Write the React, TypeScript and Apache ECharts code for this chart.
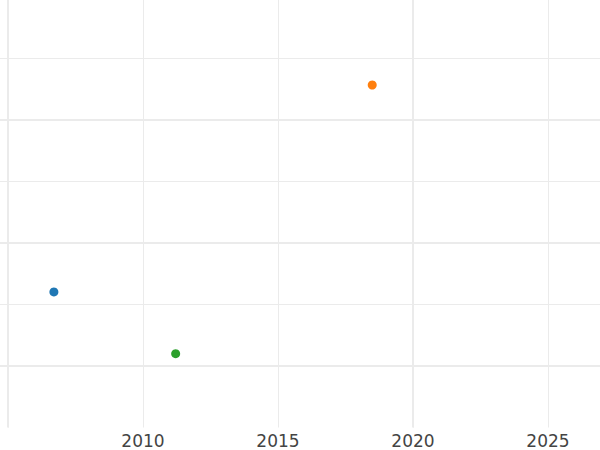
import React, { useEffect, useRef } from "react";
import * as echarts from "echarts";

const seriesNames = ["A", "B", "C"];
const seriesColors = ["#1f77b4", "#ff7f0e", "#2ca02c"];
const xValues = [2006.7, 2018.49, 2011.21];
const yValues = [1.602, 3.285, 1.1];
const majorX = [2005, 2020];
const majorY = [1, 2, 3];
const hiddenXLabels = [2005];

export default function App() {
  const ref = useRef<HTMLDivElement>(null);
  useEffect(() => {
    if (!ref.current) return;
    const chart = echarts.init(ref.current, undefined, { renderer: "svg" });
    const gridColor = "#ebebeb";
    const series: any[] = seriesNames.map((name, i) => ({
      name,
      type: "scatter",
      symbolSize: 9,
      itemStyle: { color: seriesColors[i], opacity: 1 },
      data: [[xValues[i], yValues[i]]],
      z: 5,
    }));
    series.push({
      type: "scatter",
      data: [],
      silent: true,
      markLine: {
        silent: true,
        symbol: ["none", "none"],
        label: { show: false },
        lineStyle: { color: gridColor, width: 2, type: "solid" },
        data: [
          ...majorX.map((v) => ({ xAxis: v })),
          ...majorY.map((v) => ({ yAxis: v })),
        ],
      },
      z: 1,
    });
    chart.setOption({
      animation: false,
      backgroundColor: "#ffffff",
      grid: {
        left: 0,
        right: 0,
        top: 0,
        bottom: 22.5,
        containLabel: false,
        outerBoundsMode: "none",
      },
      xAxis: {
        type: "value",
        min: 2004.704,
        max: 2026.926,
        splitNumber: 5,
        axisLine: { show: false },
        axisTick: { show: false },
        axisLabel: {
          showMinLabel: false,
          showMaxLabel: false,
          hideOverlap: false,
          color: "#444444",
          fontFamily: "DejaVu Sans",
          fontSize: 17,
          margin: 5,
          formatter: (v: number) => {
            const r = Math.round(v);
            if (Math.abs(r - v) > 1e-6) return "";
            if (hiddenXLabels.includes(r)) return "";
            return String(r);
          },
        },
        splitLine: {
          show: true,
          showMinLine: false,
          showMaxLine: false,
          lineStyle: { color: gridColor, width: 1 },
        },
      },
      yAxis: {
        type: "value",
        min: 0.5,
        max: 3.976,
        interval: 0.5,
        axisLine: { show: false },
        axisTick: { show: false },
        axisLabel: { show: false },
        splitLine: {
          show: true,
          showMinLine: false,
          showMaxLine: false,
          lineStyle: { color: gridColor, width: 1 },
        },
      },
      series,
    });
    return () => chart.dispose();
  }, []);
  return (
    <div
      ref={ref}
      style={{ position: "fixed", left: 0, top: 0, width: 600, height: 450 }}
    />
  );
}
